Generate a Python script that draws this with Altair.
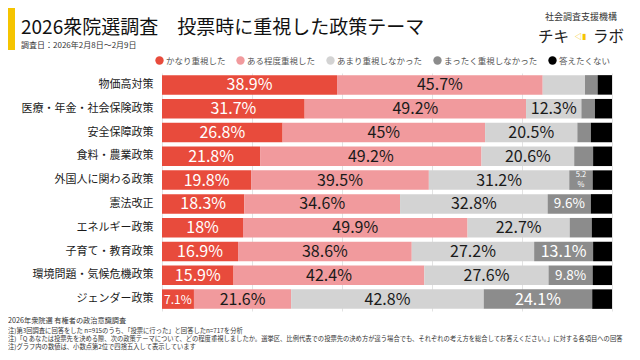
import altair as alt
import pandas as pd

FONT = "Noto Sans CJK JP"

categories = ["物価高対策", "医療・年金・社会保険政策", "安全保障政策", "食料・農業政策",
              "外国人に関わる政策", "憲法改正", "エネルギー政策", "子育て・教育政策",
              "環境問題・気候危機政策", "ジェンダー政策"]
responses = ["かなり重視した", "ある程度重視した", "あまり重視しなかった",
             "まったく重視しなかった", "答えたくない"]

very = [38.9, 31.7, 26.8, 21.8, 19.8, 18.3, 18.0, 16.9, 15.9, 7.1]
somewhat = [45.7, 49.2, 45.0, 49.2, 39.5, 34.6, 49.9, 38.6, 42.4, 21.6]
notmuch = [9.4, 12.3, 20.5, 20.6, 31.2, 32.8, 22.7, 27.2, 27.6, 42.8]
notatall = [2.8, 3.0, 3.0, 4.2, 5.2, 9.6, 4.9, 13.1, 9.8, 24.1]
noanswer = [3.2, 3.8, 4.7, 4.2, 4.3, 4.7, 4.5, 4.2, 4.3, 4.4]

colors = ["#E84B3C", "#F19A9D", "#D3D3D3", "#8C8C8C", "#000000"]
label_colors = ["#FFFFFF", "#1A1A1A", "#1A1A1A", "#FFFFFF", "#FFFFFF"]
min_label = [5, 5, 10, 5, 101]

series = [very, somewhat, notmuch, notatall, noanswer]

rows = []
for i, cat in enumerate(categories):
    start = 0.0
    for j, resp in enumerate(responses):
        v = series[j][i]
        end = start + v
        shown = v >= min_label[j]
        if v >= 12:
            fs = 16
        elif v >= 8:
            fs = 13.5
        elif v >= 6:
            fs = 12
        else:
            fs = 7.5
        two = shown and v < 6
        rows.append(dict(category=cat, response=resp, order=j, value=v,
                         start=start, end=end, mid=(start + end) / 2,
                         label=(f"{v:g}%" if shown and not two else ""),
                         num=(f"{v:g}" if two else ""),
                         pct=("%" if two else ""),
                         fs=fs, tc=label_colors[j]))
        start = end
df = pd.DataFrame(rows)

yenc = alt.Y("category:N", sort=categories,
             scale=alt.Scale(paddingInner=0.18, paddingOuter=0.09),
             axis=alt.Axis(title=None, domain=False, ticks=False, grid=False,
                           labelFontSize=11, labelColor="#1A1A1A", labelPadding=9,
                           labelFont=FONT))
ysimple = alt.Y("category:N", sort=categories)

bars = alt.Chart(df).mark_bar().encode(
    y=yenc,
    x=alt.X("start:Q", scale=alt.Scale(domain=[0, 100], nice=False),
            axis=alt.Axis(title=None, values=[0, 20, 40, 60, 80, 100], labels=False,
                          ticks=False, domain=False, grid=True, gridColor="#E3E3E3")),
    x2="end:Q",
    color=alt.Color("response:N", scale=alt.Scale(domain=responses, range=colors),
                    legend=alt.Legend(orient="none", direction="horizontal", columns=5,
                                      legendX=-7, legendY=-17, title=None,
                                      symbolType="circle", symbolSize=70,
                                      symbolStrokeWidth=0, symbolOpacity=1,
                                      labelFontSize=8.5, labelColor="#555",
                                      labelFont=FONT, columnPadding=10, labelOffset=2)),
    order=alt.Order("order:Q"),
)

labels = alt.Chart(df).transform_filter("datum.label != ''").mark_text(
    align="center", baseline="middle", font=FONT, dy=0.5).encode(
    y=ysimple, x=alt.X("mid:Q"), text="label:N",
    size=alt.Size("fs:Q", scale=None), color=alt.Color("tc:N", scale=None),
)
small_num = alt.Chart(df).transform_filter("datum.num != ''").mark_text(
    align="center", baseline="middle", font=FONT, dy=-5).encode(
    y=ysimple, x=alt.X("mid:Q"), text="num:N",
    size=alt.Size("fs:Q", scale=None), color=alt.Color("tc:N", scale=None),
)
small_pct = alt.Chart(df).transform_filter("datum.pct != ''").mark_text(
    align="center", baseline="middle", font=FONT, dy=5).encode(
    y=ysimple, x=alt.X("mid:Q"), text="pct:N",
    size=alt.Size("fs:Q", scale=None), color=alt.Color("tc:N", scale=None),
)


def note(text, x, y, size, color="#333", align="left", weight="normal"):
    return alt.Chart(pd.DataFrame({"t": [text]})).mark_text(
        align=align, baseline="middle", fontSize=size, color=color, font=FONT,
        fontWeight=weight).encode(x=alt.value(x), y=alt.value(y), text="t:N")


yellow = alt.Chart(pd.DataFrame({"a": [1]})).mark_rect(color="#F5C400").encode(
    x=alt.value(-154), x2=alt.value(-147), y=alt.value(-65), y2=alt.value(-23))

title = note("2026衆院選調査　投票時に重視した政策テーマ", -141, -45.5, 19, color="#111")
subtitle = note("調査日：2026年2月8日～2月9日", -141, -27, 8, color="#333")
logo1 = note("社会調査支援機構", 419, -56, 9, color="#333", align="center")
logo2 = note("チキ", 376, -36, 15.5, color="#222")
logo3 = note("◁▮", 412.5, -36, 7.5, color="#F5C400")
logo4 = note("ラボ", 431, -36, 15.5, color="#222")

foot0 = note("2026年衆院選 有権者の政治意識調査", -154, 248, 7.2, color="#333")
foot1 = note("注)第3回調査に回答をした n=915のうち、「投票に行った」と回答したn=717を分析", -154, 258, 6.3)
foot2 = note("注)「Q あなたは投票先を決める際、次の政策テーマについて、どの程度重視しましたか。選挙区、比例代表での投票先の決め方が違う場合でも、それぞれの考え方を総合してお答えください。」に対する各項目への回答", -154, 266.3, 6.3)
foot3 = note("注)グラフ内の数値は、小数点第2位で四捨五入して表示しています", -154, 274.3, 6.3)

chart = alt.layer(
    bars, labels, small_num, small_pct, yellow, title, subtitle,
    logo1, logo2, logo3, logo4, foot0, foot1, foot2, foot3
).properties(
    width=450, height=238,
    autosize=alt.AutoSizeParams(type="none"),
    padding={"left": 154, "top": 65, "right": 20, "bottom": 41},
).configure(font=FONT).configure_view(stroke=None)

chart.save("out.html", embed_options={"renderer": "svg", "actions": False})
